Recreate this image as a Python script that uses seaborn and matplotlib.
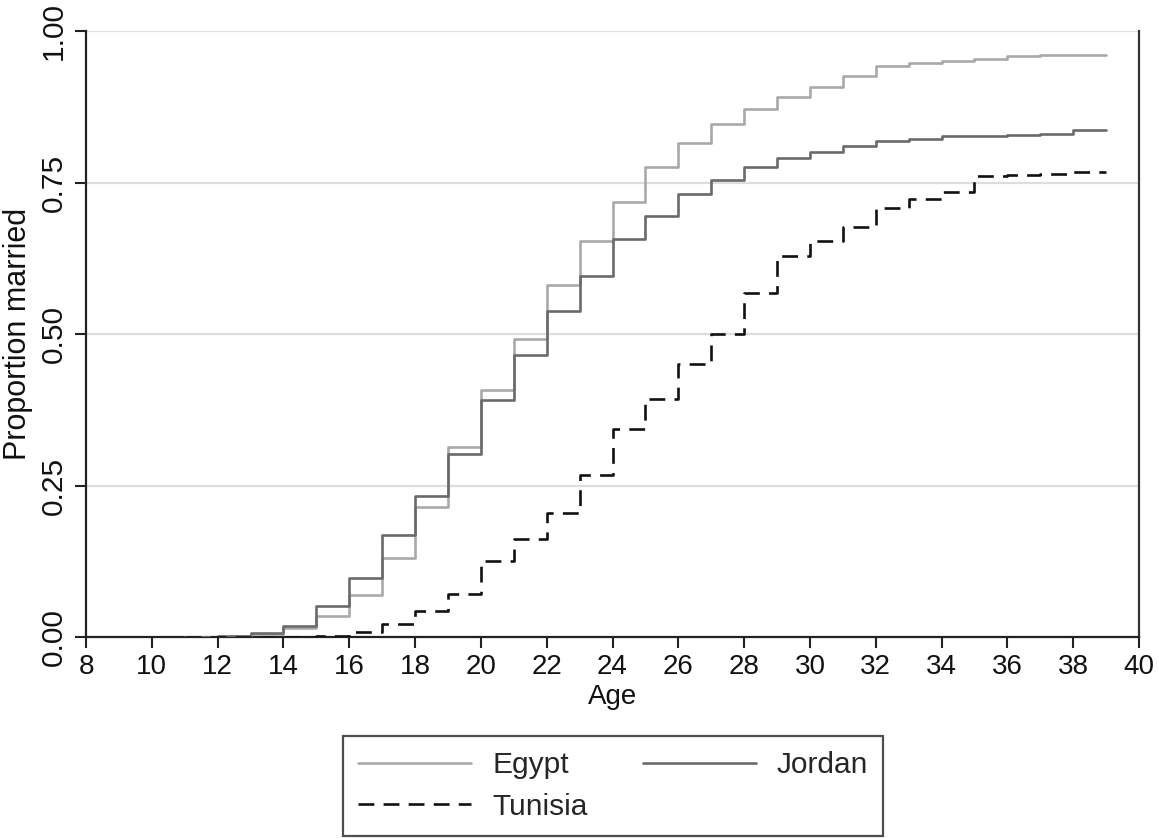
import numpy as np
import pandas as pd
import matplotlib
matplotlib.use("Agg")
import matplotlib.pyplot as plt
import seaborn as sns

ages = list(range(11, 40))
egypt = [0.000, 0.002, 0.005, 0.015, 0.034, 0.069, 0.130, 0.215, 0.313, 0.408,
         0.492, 0.581, 0.653, 0.717, 0.775, 0.816, 0.846, 0.872, 0.891, 0.908,
         0.925, 0.942, 0.947, 0.950, 0.953, 0.958, 0.960, 0.960, 0.960]
jordan = [0.000, 0.002, 0.007, 0.018, 0.051, 0.097, 0.168, 0.232, 0.302, 0.391,
          0.465, 0.538, 0.595, 0.657, 0.694, 0.731, 0.754, 0.776, 0.791, 0.801,
          0.811, 0.819, 0.822, 0.826, 0.827, 0.828, 0.830, 0.837, 0.837]
tunisia = [0.000, 0.000, 0.000, 0.000, 0.002, 0.009, 0.021, 0.043, 0.071, 0.125,
           0.162, 0.204, 0.268, 0.343, 0.393, 0.451, 0.500, 0.568, 0.628, 0.653,
           0.677, 0.708, 0.722, 0.734, 0.761, 0.762, 0.764, 0.767, 0.767]
countries = ["Egypt", "Jordan", "Tunisia"]
x_ticks = list(range(8, 41, 2))
y_ticks = [0.0, 0.25, 0.5, 0.75, 1.0]
y_tick_labels = ["0.00", "0.25", "0.50", "0.75", "1.00"]

df = pd.DataFrame({
    "Age": ages * 3,
    "Proportion married": egypt + jordan + tunisia,
    "Country": [c for c in countries for _ in ages],
})

sns.set_theme(style="white")
plt.rcParams["font.family"] = ["Liberation Sans", "DejaVu Sans"]

fig = plt.figure(figsize=(11.59, 8.38), dpi=100)
ax = fig.add_axes([86 / 1159, 1 - 637 / 838, (1139 - 86) / 1159, (637 - 31) / 838])

palette = {"Egypt": "#a9a9a9", "Jordan": "#6a6a6a", "Tunisia": "#111111"}
dashes = {"Egypt": "", "Jordan": "", "Tunisia": (6, 3.5)}
sns.lineplot(data=df, x="Age", y="Proportion married", hue="Country",
             style="Country", palette=palette, dashes=dashes,
             drawstyle="steps-post", linewidth=1.9, ax=ax, legend=True,
             zorder=3)

ax.set_xlim(8, 40)
ax.set_ylim(0, 1)
ax.set_xticks(x_ticks)
ax.set_yticks(y_ticks)
ax.set_yticklabels(y_tick_labels, rotation=90, va="center")
ax.tick_params(axis="both", direction="out", length=8, width=1.5,
               color="#222222", labelcolor="#111111",
               left=True, bottom=True)
ax.tick_params(axis="x", labelsize=20, pad=4)
ax.tick_params(axis="y", labelsize=21.5, pad=5)
for yv in y_ticks[1:]:
    ax.axhline(yv, color="#dddddd", linewidth=1.6, zorder=1)

for side in ["left", "bottom"]:
    ax.spines[side].set_color("#222222")
    ax.spines[side].set_linewidth(1.6)
ax.spines["right"].set_color("#333333")
ax.spines["right"].set_linewidth(1.6)
ax.spines["top"].set_visible(False)

ax.set_xlabel("Age", fontsize=20, color="#111111", labelpad=3)
ax.set_ylabel("Proportion married", fontsize=22, color="#111111", labelpad=5)

handles, labels = ax.get_legend_handles_labels()
hmap = dict(zip(labels, handles))
ax.get_legend().remove()
order = ["Egypt", "Tunisia", "Jordan"]
leg = fig.legend([hmap[k] for k in order], order,
                 loc="center",
                 bbox_to_anchor=(613 / 1159, (838 - 786) / 838),
                 ncol=2, fontsize=21.5, frameon=True,
                 fancybox=False, edgecolor="#222222", handlelength=3.8,
                 handletextpad=0.7, borderpad=0.5, labelspacing=0.45,
                 columnspacing=1.85, borderaxespad=0)
leg.get_frame().set_linewidth(1.6)
for line in leg.get_lines():
    line.set_linewidth(1.9)

fig.savefig("out.png", dpi=100, facecolor="white")
